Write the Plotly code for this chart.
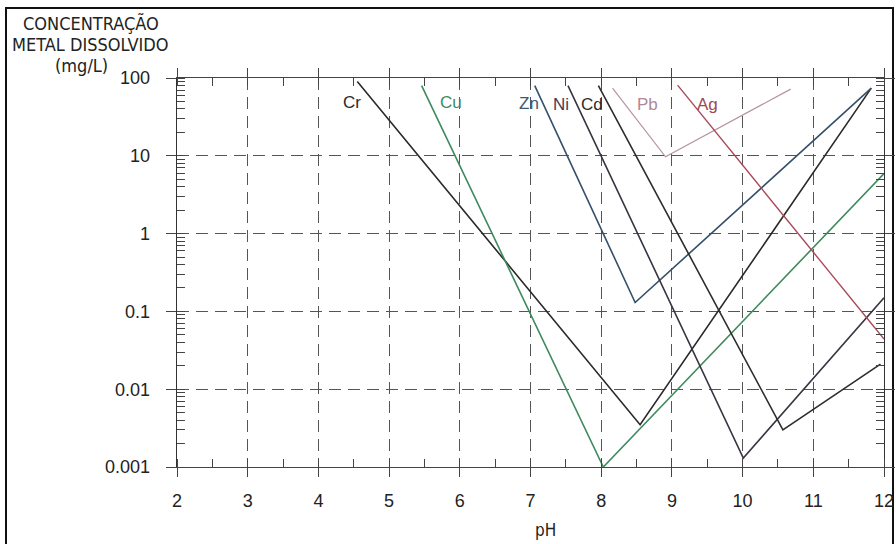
import plotly.graph_objects as go
import math

# ---- data ----
metals = ["Cr", "Cu", "Zn", "Ni", "Cd", "Pb", "Ag"]
cr_ph = [4.55, 8.55, 11.82]
cr_conc = [90, 0.0035, 74]
cu_ph = [5.46, 8.03, 12.0]
cu_conc = [80, 0.001, 5.9]
zn_ph = [7.06, 8.48, 11.82]
zn_conc = [80, 0.13, 74]
ni_ph = [7.53, 10.01, 12.0]
ni_conc = [80, 0.0013, 0.15]
cd_ph = [7.96, 10.57, 11.95]
cd_conc = [80, 0.003, 0.021]
pb_ph = [8.16, 8.91, 10.68]
pb_conc = [74, 9.7, 72]
ag_ph = [9.08, 12.0]
ag_conc = [81, 0.044]

x_ticks = [2, 3, 4, 5, 6, 7, 8, 9, 10, 11, 12]
y_ticks = [0.001, 0.01, 0.1, 1, 10, 100]
y_tick_text = ["0.001", "0.01", "0.1", "1", "10", "100"]

series = {
    "Cr": (cr_ph, cr_conc),
    "Cu": (cu_ph, cu_conc),
    "Zn": (zn_ph, zn_conc),
    "Ni": (ni_ph, ni_conc),
    "Cd": (cd_ph, cd_conc),
    "Pb": (pb_ph, pb_conc),
    "Ag": (ag_ph, ag_conc),
}

# ---- styles ----
line_colors = {
    "Cr": "#2a2a2a", "Cu": "#3f8a5f", "Zn": "#35506b", "Ni": "#3b3342",
    "Cd": "#2d2d2d", "Pb": "#b7939f", "Ag": "#a9475a",
}
label_colors = {
    "Cr": "#2a2a2a", "Cu": "#3f8a5f", "Zn": "#3a5a7a", "Ni": "#4a3a52",
    "Cd": "#2d2d2d", "Pb": "#b08898", "Ag": "#a04852",
}
line_widths = {"Cr": 1.6, "Cu": 1.6, "Zn": 1.6, "Ni": 1.6, "Cd": 1.6, "Pb": 1.2, "Ag": 1.4}
# label anchor positions (pH, concentration)
label_pos = {
    "Cr": (4.48, 48), "Cu": (5.88, 48), "Zn": (6.98, 47), "Ni": (7.43, 46),
    "Cd": (7.87, 46), "Pb": (8.66, 46), "Ag": (9.5, 46),
}

FONT = "Liberation Sans, Arial, sans-serif"
NARROW = "Liberation Sans Narrow, DejaVu Sans Condensed, Arial Narrow, sans-serif"

fig = go.Figure()
for m in metals:
    xs, ys = series[m]
    fig.add_trace(go.Scatter(x=xs, y=ys, mode="lines", name=m,
                             line=dict(color=line_colors[m], width=line_widths[m]),
                             showlegend=False, hoverinfo="skip"))

for m in metals:
    px, py = label_pos[m]
    fig.add_annotation(x=px, y=math.log10(py), xref="x", yref="y", text=m,
                       showarrow=False, font=dict(family=FONT, size=17, color=label_colors[m]))

# figure geometry
L, R, T, B = 177, 12, 78, 77
W, H = 896, 544
pw, ph = W - L - R, H - T - B

def paper_x(px):
    return (px - L) / pw

def paper_y(py):
    return (H - B - py) / ph

# y-axis title (three lines)
for txt, cx, cy in [("CONCENTRAÇÃO", 91, 23), ("METAL DISSOLVIDO", 90, 45), ("(mg/L)", 81, 66)]:
    fig.add_annotation(x=paper_x(cx), y=paper_y(cy), xref="paper", yref="paper", text=txt,
                       showarrow=False, xanchor="center", yanchor="middle",
                       font=dict(family=NARROW, size=18, color="#222"))

# x-axis title
fig.add_annotation(x=paper_x(545), y=paper_y(530), xref="paper", yref="paper", text="pH",
                   showarrow=False, xanchor="center", yanchor="middle",
                   font=dict(family=NARROW, size=17, color="#222"))

# outer frame of the scanned figure
fig.add_shape(type="rect", xref="paper", yref="paper",
              x0=paper_x(6), x1=paper_x(893), y0=paper_y(560), y1=paper_y(8),
              line=dict(color="#111", width=2), layer="below")

fig.update_xaxes(range=[2, 12], tickvals=x_ticks, ticktext=[str(v) for v in x_ticks],
                 automargin=False,
                 ticks="outside", ticklen=9, tickcolor="#444", tickwidth=1,
                 ticklabelstandoff=8,
                 showline=True, linecolor="#444", linewidth=1.2, mirror="ticks",
                 showgrid=True, gridcolor="#555", gridwidth=1, griddash="12px,7px",
                 zeroline=False,
                 minor=dict(dtick=0.5, tick0=2, ticks="inside", ticklen=8, tickcolor="#444",
                            showgrid=False),
                 tickfont=dict(family=FONT, size=18, color="#222"))

fig.update_yaxes(type="log", range=[-3, 2], tickvals=y_ticks, ticktext=y_tick_text,
                 automargin=False,
                 ticks="outside", ticklen=10, tickcolor="#444", tickwidth=1,
                 ticklabelstandoff=12,
                 showline=True, linecolor="#333", linewidth=1.4, mirror="ticks",
                 showgrid=True, gridcolor="#555", gridwidth=1, griddash="12px,7px",
                 zeroline=False,
                 minor=dict(dtick="D1", ticks="inside", ticklen=8, tickcolor="#444",
                            showgrid=False),
                 tickfont=dict(family=FONT, size=18, color="#222"))

fig.update_layout(width=W, height=H, autosize=False, margin=dict(l=L, r=R, t=T, b=B),
                  plot_bgcolor="white", paper_bgcolor="white", showlegend=False)

fig.write_html("out.html",
               config={"responsive": False, "displayModeBar": False, "staticPlot": True},
               post_script="document.body.style.margin='0px';"
                           "document.documentElement.style.overflow='hidden';")
